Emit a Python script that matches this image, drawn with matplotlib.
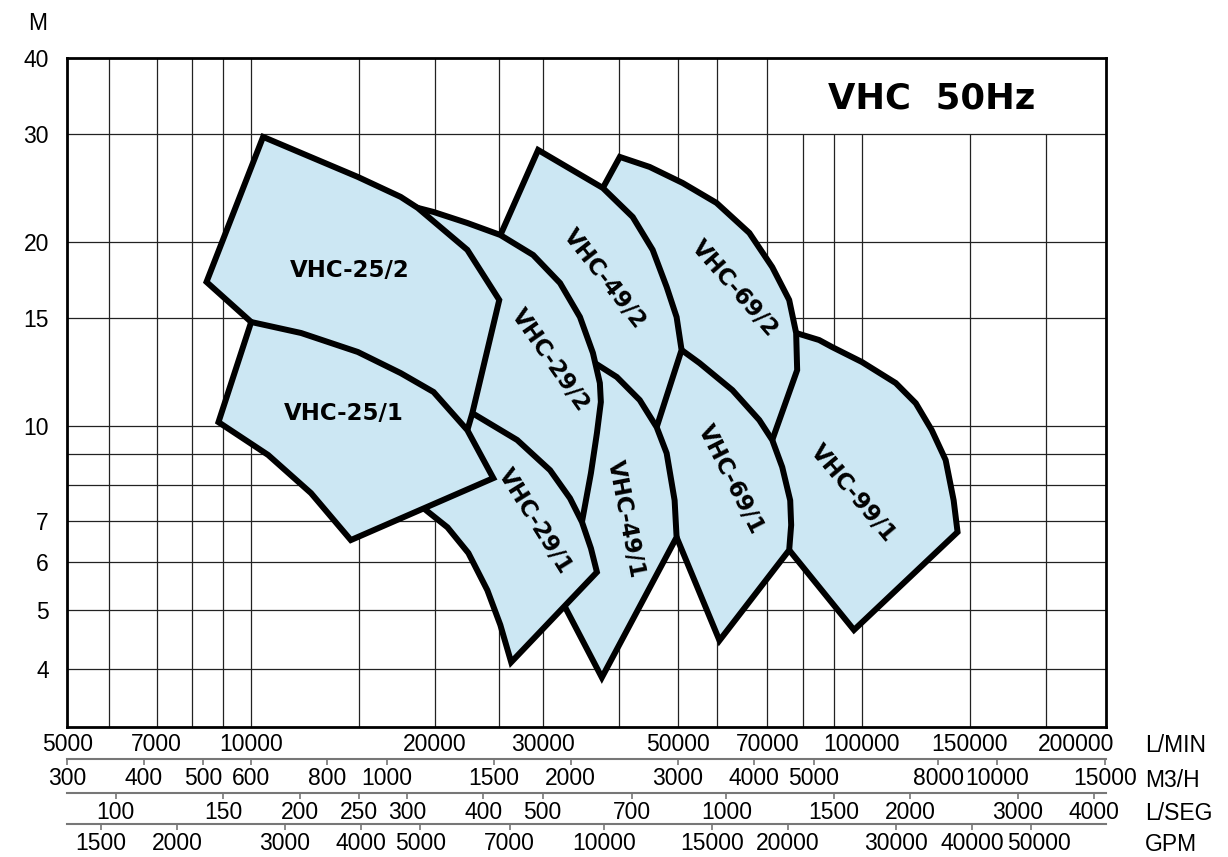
import matplotlib.pyplot as plt
from matplotlib.patches import Polygon, Rectangle
from matplotlib.ticker import NullLocator
from matplotlib.transforms import ScaledTranslation

plt.rcParams['font.family'] = ['Liberation Sans', 'DejaVu Sans']

# Pump ranges: flow in L/MIN, head in M (listed back to front)
vhc99_1_q = [78030, 85080, 89340, 100000, 113600, 122500, 130100, 137100, 141300, 143400, 97040, 76010, 69200, 66650, 70510]
vhc99_1_h = [14.20, 13.83, 13.47, 12.73, 11.76, 10.90, 9.85, 8.80, 7.56, 6.71, 4.64, 6.27, 7.02, 8.80, 11.89]

vhc69_2_q = [40140, 44920, 50850, 57790, 65410, 71310, 76010, 78030, 78330, 71310, 66650, 54210, 44920, 35860, 37650]
vhc69_2_h = [27.56, 26.54, 24.99, 23.18, 20.70, 18.20, 16.08, 14.20, 12.35, 9.49, 8.47, 10.23, 14.91, 23.0, 24.52]

vhc69_1_q = [50660, 54210, 61370, 67910, 71310, 74040, 76300, 76580, 76010, 58440, 49720, 44920, 42460]
vhc69_1_h = [13.32, 12.68, 11.45, 10.23, 9.49, 8.57, 7.56, 6.89, 6.27, 4.46, 6.58, 7.56, 9.85]

vhc49_2_q = [29500, 32890, 37650, 42140, 45430, 47890, 49720, 50660, 46120, 43270, 32040, 24630]
vhc49_2_h = [28.29, 26.54, 24.52, 21.98, 19.42, 16.89, 15.08, 13.32, 9.96, 9.49, 13.83, 18.84]

vhc49_1_q = [33900, 36540, 39690, 43270, 46120, 47890, 49350, 49720, 37510, 32650, 29720, 32040]
vhc49_1_h = [12.12, 12.68, 12.03, 11.03, 9.96, 9.03, 7.56, 6.58, 3.88, 5.06, 5.81, 8.47]

vhc29_2_q = [17240, 18730, 19890, 22590, 25580, 28950, 32040, 34540, 36270, 37230, 37370, 36820, 36000, 34800, 32040, 23720, 21600, 21200]
vhc29_2_h = [21.09, 22.75, 22.40, 21.49, 20.54, 19.05, 17.14, 15.08, 13.17, 11.76, 10.95, 9.74, 8.38, 6.97, 7.02, 9.49, 10.23, 16.08]

vhc29_1_q = [21600, 23020, 27260, 30860, 33270, 34800, 36000, 36820, 26650, 25580, 24360, 22680, 20960, 19150, 18940]
vhc29_1_h = [11.24, 10.50, 9.49, 8.47, 7.62, 6.97, 6.31, 5.77, 4.11, 4.73, 5.39, 6.20, 6.83, 7.34, 8.47]

vhc25_2_q = [10460, 14950, 17570, 18730, 22590, 25480, 23020, 22590, 20420, 11190, 10000, 8450]
vhc25_2_h = [29.72, 25.56, 23.71, 22.75, 19.42, 16.08, 10.50, 9.85, 9.13, 13.32, 14.80, 17.21]

vhc25_1_q = [10000, 12070, 14950, 17570, 19890, 22590, 24910, 14560, 12530, 10660, 8840]
vhc25_1_h = [14.80, 14.20, 13.22, 12.21, 11.37, 9.85, 8.22, 6.51, 7.77, 8.97, 10.15]

label_names = ['VHC-25/2', 'VHC-25/1', 'VHC-29/2', 'VHC-29/1', 'VHC-49/2',
               'VHC-49/1', 'VHC-69/2', 'VHC-69/1', 'VHC-99/1']
label_q = [14500, 14180, 30860, 29170, 37930, 41060, 61830, 60910, 96500]
label_h = [17.94, 10.50, 12.82, 6.99, 17.40, 7.04, 16.76, 8.19, 7.77]
label_rot = [0, 0, -55, -58, -52, -79, -49, -63, -50]

# grid and scales
grid_q = [5850, 7000, 8000, 9000, 10000, 15000, 20000, 25500, 30000, 40000,
          50000, 58000, 70000, 80000, 90000, 100000, 150000, 200000]
grid_h = [4, 5, 6, 7, 8, 9, 10, 15, 20, 30]
head_ticks = [4, 5, 6, 7, 10, 15, 20, 30, 40]
lmin_ticks = [5000, 7000, 10000, 20000, 30000, 50000, 70000, 100000, 150000, 200000]
m3h_ticks = [300, 400, 500, 600, 800, 1000, 1500, 2000, 3000, 4000, 5000, 8000, 10000, 15000]
lseg_ticks = [100, 150, 200, 250, 300, 400, 500, 700, 1000, 1500, 2000, 3000, 4000]
gpm_ticks = [1500, 2000, 3000, 4000, 5000, 7000, 10000, 15000, 20000, 30000, 40000, 50000]

fill = '#cce7f3'
fs = 16.5

fig = plt.figure(figsize=(12.28, 8.57), dpi=100)
ax = fig.add_axes([0.0546, 0.1517, 0.8461, 0.7806])
ax.set_xscale('log')
ax.set_yscale('log')
ax.set_xlim(4995, 251000)
ax.set_ylim(3.22, 40)

for q in grid_q:
    ax.axvline(q, color='#222222', lw=0.9, zorder=0.5)
for h in grid_h:
    ax.axhline(h, color='#222222', lw=0.9, zorder=0.7)

# white box behind the title (hides the vertical grid there)
ax.add_patch(Rectangle((70700, 30), 251000 - 70700, 10, facecolor='white',
                       edgecolor='none', zorder=0.6))

polys = [(vhc99_1_q, vhc99_1_h), (vhc69_2_q, vhc69_2_h), (vhc69_1_q, vhc69_1_h),
         (vhc49_2_q, vhc49_2_h), (vhc49_1_q, vhc49_1_h), (vhc29_2_q, vhc29_2_h),
         (vhc29_1_q, vhc29_1_h), (vhc25_2_q, vhc25_2_h), (vhc25_1_q, vhc25_1_h)]
for i, (q, h) in enumerate(polys):
    ax.add_patch(Polygon(list(zip(q, h)), closed=True, facecolor=fill,
                         edgecolor='black', lw=4.3, joinstyle='miter', zorder=2 + i))

for name, q, h, r in zip(label_names, label_q, label_h, label_rot):
    ax.text(q, h, name, rotation=r, rotation_mode='anchor', ha='center', va='center',
            fontsize=16.5, fontweight='bold', family='DejaVu Sans', zorder=20)

ax.text(130100, 34.4, 'VHC  50Hz', ha='center', va='center', fontsize=25.5,
        fontweight='bold', family='DejaVu Sans', zorder=20)

# axes ticks
ax.xaxis.set_minor_locator(NullLocator())
ax.yaxis.set_minor_locator(NullLocator())
ax.set_xticks(lmin_ticks, [str(t) if t != 200000 else '' for t in lmin_ticks])
ax.set_yticks(head_ticks, [str(t) for t in head_ticks])
ax.tick_params(axis='x', length=0, pad=4, labelsize=fs)
ax.tick_params(axis='y', length=0, pad=13, labelsize=fs)
ax.annotate('200000', xy=(200000, 0), xycoords=('data', 'axes fraction'),
            xytext=(22, -4), textcoords='offset points', ha='center', va='top',
            fontsize=fs, annotation_clip=False)
for s in ax.spines.values():
    s.set_linewidth(2)
    s.set_zorder(30)

ax.text(-0.028, 1.052, 'M', transform=ax.transAxes, ha='center', va='center', fontsize=fs)

# extra flow scales below the chart
scales = [(-0.0478, 0.06, m3h_ticks), (-0.0987, 1 / 60, lseg_ticks), (-0.1450, 1 / 3.785, gpm_ticks)]
secs = []
for loc, f, ticks in scales:
    sec = ax.secondary_xaxis(loc, functions=(lambda x, f=f: x * f, lambda x, f=f: x / f))
    sec.set_xticks(ticks, [str(t) for t in ticks])
    sec.xaxis.set_minor_locator(NullLocator())
    sec.tick_params(axis='x', length=4.5, width=1.2, color='#777777', pad=1.5, labelsize=fs)
    for s in sec.spines.values():
        s.set_color('#777777')
        s.set_linewidth(1.5)
    secs.append(sec)

# last GPM label sits a little to the right in the original
last = secs[2].get_xticklabels()[-1]
last.set_transform(last.get_transform() + ScaledTranslation(0.08, 0, fig.dpi_scale_trans))

for y, unit in zip([0.1225, 0.0817, 0.0432, 0.0070], ['L/MIN', 'M3/H', 'L/SEG', 'GPM']):
    fig.text(0.9324, y, unit, ha='left', va='baseline', fontsize=fs)

fig.savefig('out.png', dpi=100)
